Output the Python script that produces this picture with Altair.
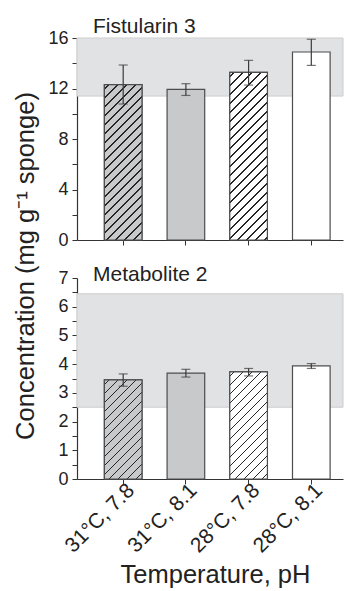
import math
import altair as alt
import pandas as pd

# ---------------- data ----------------
categories = ["31°C, 7.8", "31°C, 8.1", "28°C, 7.8", "28°C, 8.1"]
bar_fill = ["#c8c9cb", "#c8c9cb", "#ffffff", "#ffffff"]
hatched = [True, False, True, False]

fist_mean = [12.3, 11.93, 13.28, 14.89]
fist_lo = [10.77, 11.45, 12.27, 13.83]
fist_hi = [13.86, 12.38, 14.23, 15.9]
fist_band = [11.4, 16.0]
fist_ticks = [0, 2, 4, 6, 8, 10, 12, 14, 16]
fist_labels = [0, 4, 8, 12, 16]

met_mean = [3.45, 3.69, 3.73, 3.94]
met_lo = [3.23, 3.55, 3.59, 3.85]
met_hi = [3.66, 3.82, 3.85, 4.02]
met_band = [2.5, 6.45]
met_ticks = [0, 0.5, 1, 1.5, 2, 2.5, 3, 3.5, 4, 4.5, 5, 5.5, 6, 6.5, 7]
met_labels = [0, 1, 2, 3, 4, 5, 6, 7]

FONT = "Liberation Sans"
W = 266
PI, PO, ALIGN = 0.4, 0.321, 0.68
STROKE = "#4d4d4d"
AXC = "#333333"


def hatch_gradient(w, h, bg, fg="#262626", gap=9 / math.sqrt(2), lw=1.0):
    """45-degree stripe fill as a hard-stop linear gradient (bbox units)."""
    D = (w + h) / math.sqrt(2)
    k = (w + h) / (w * w + h * h)
    stops = [{"offset": 0, "color": bg}]
    c = gap / 2
    while c < D:
        a = max((c - lw / 2) / D, 0)
        b = min((c + lw / 2) / D, 1)
        stops += [
            {"offset": a, "color": bg},
            {"offset": a, "color": fg},
            {"offset": b, "color": fg},
            {"offset": b, "color": bg},
        ]
        c += gap
    stops.append({"offset": 1, "color": bg})
    return {"gradient": "linear", "x1": 0, "y1": 0, "x2": k * w, "y2": k * h, "stops": stops}


def panel(mean, lo, hi, band, ymax, ticks, labels, height, title, bottom,
          title_offset, ytitle):
    df = pd.DataFrame({"cat": categories, "mean": mean, "lo": lo, "hi": hi,
                       "fillc": bar_fill})
    bdf = pd.DataFrame({"b0": [band[0]], "b1": [band[1]]})

    xscale = alt.Scale(domain=categories, paddingInner=PI, paddingOuter=PO, align=ALIGN)
    yscale = alt.Scale(domain=[0, ymax], nice=False, zero=True)

    label_expr = ("indexof([" + ",".join(str(v) for v in labels) +
                  "], datum.value) >= 0 ? format(datum.value, 'd') : ''")

    if bottom:
        xaxis = alt.Axis(labelAngle=315, labelAlign="right", labelBaseline="middle",
                         labelFontSize=21, labelColor="#222", labelPadding=3,
                         labelOffset=8, labelOverlap=False,
                         tickSize=5, tickColor=AXC, domainColor=AXC, domainWidth=1.2,
                         title="Temperature, pH", titleFontSize=25.5,
                         titleFontWeight="normal", titleColor="#222", titlePadding=6,
                         titleX=138, labelFont=FONT, titleFont=FONT)
    else:
        xaxis = alt.Axis(labels=False, tickSize=5, tickColor=AXC, domainColor=AXC,
                         domainWidth=1.2, title=None)

    yaxis_kwargs = dict(values=ticks, labelExpr=label_expr, tickSize=5,
                        tickColor=AXC, domainColor=AXC, domainWidth=1.2,
                        labelFontSize=18, labelColor="#222", labelPadding=4,
                        labelOverlap=False, grid=False, labelFont=FONT)
    if ytitle:
        yaxis = alt.Axis(title="Concentration (mg g⁻¹ sponge)", titleFontSize=25.5,
                         titleFontWeight="normal", titleColor="#222", titlePadding=9,
                         titleY=227.5, titleFont=FONT, **yaxis_kwargs)
    else:
        yaxis = alt.Axis(title=None, **yaxis_kwargs)

    def X():
        return alt.X("cat:N", scale=xscale, sort=categories, axis=xaxis)

    def Y(field):
        return alt.Y(field, scale=yscale, axis=yaxis)

    base = alt.Chart(df)

    band_layer = alt.Chart(bdf).mark_rect(color="#e1e2e4", stroke="#cdcdcf",
                                          strokeWidth=1).encode(
        y=Y("b0:Q"),
        y2="b1:Q",
    )

    bars = base.mark_bar(stroke=STROKE, strokeWidth=1.2).encode(
        x=X(),
        y=Y("mean:Q"),
        fill=alt.Fill("fillc:N", scale=None),
    )

    layers = [band_layer, bars]
    bw = W / (4 - PI + 2 * PO) * (1 - PI)
    for c, m, f, hz in zip(categories, mean, bar_fill, hatched):
        if not hz:
            continue
        hpx = m / ymax * height
        g = hatch_gradient(bw, hpx, f)
        layers.append(
            base.transform_filter(alt.datum.cat == c)
            .mark_bar(fill=g, stroke=STROKE, strokeWidth=1.2)
            .encode(x=X(), y=Y("mean:Q"))
        )

    err = base.mark_rule(color="#3a3a3a", strokeWidth=1.2).encode(
        x=X(), y=Y("lo:Q"), y2="hi:Q",
    )
    cap_lo = base.mark_tick(color="#3a3a3a", size=9, thickness=1.2).encode(
        x=X(), y=Y("lo:Q"),
    )
    cap_hi = base.mark_tick(color="#3a3a3a", size=9, thickness=1.2).encode(
        x=X(), y=Y("hi:Q"),
    )
    layers += [err, cap_lo, cap_hi]

    return alt.layer(*layers).properties(
        width=W, height=height,
        title=alt.TitleParams(text=title, anchor="start", frame="group",
                              fontSize=21, fontWeight="normal", color="#222",
                              font=FONT, offset=title_offset, dx=16),
    )


top = panel(fist_mean, fist_lo, fist_hi, fist_band, 16, fist_ticks, fist_labels,
            202, "Fistularin 3", False, -7.5, True)
bot = panel(met_mean, met_lo, met_hi, met_band, 7, met_ticks, met_labels,
            201, "Metabolite 2", True, -16, False)

chart = alt.vconcat(top, bot, spacing=38, bounds="flush").properties(
    padding={"left": 5, "top": 7, "right": 0, "bottom": 5}
).configure(font=FONT).configure_axis(labelOverlap=False).configure_view(strokeWidth=0)

chart.save("out.html", embed_options={"renderer": "svg", "actions": False})
